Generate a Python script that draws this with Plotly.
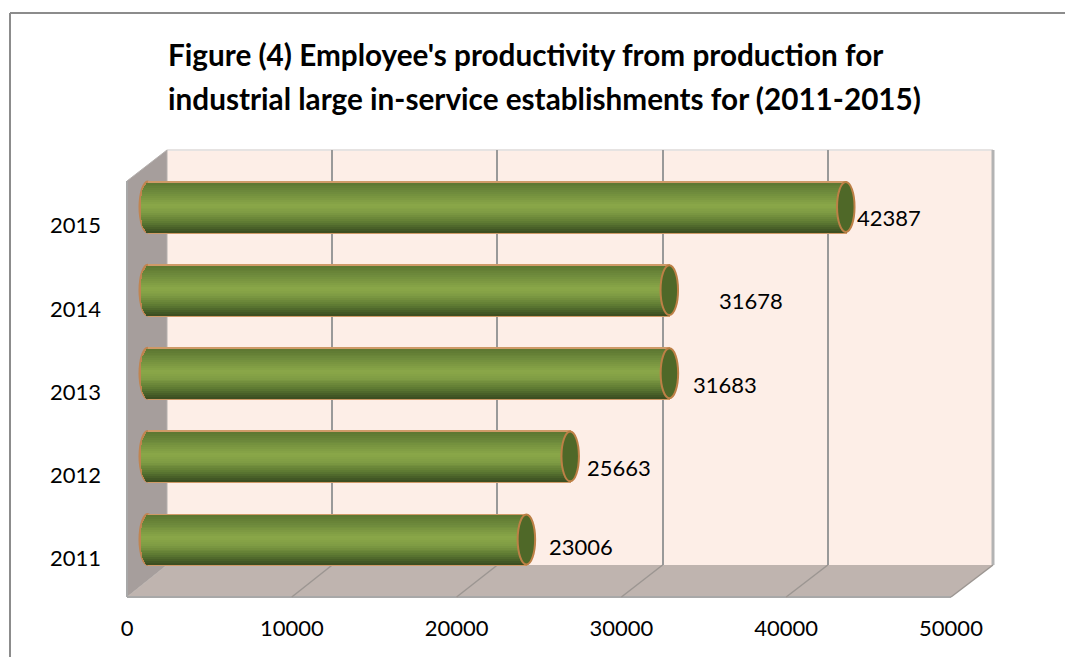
import numpy as np
import plotly.graph_objects as go

# ---- data ----
years = ["2011", "2012", "2013", "2014", "2015"]
productivity = [23006, 25663, 31683, 31678, 42387]
x_ticks = [0, 10000, 20000, 30000, 40000, 50000]
title_line_1 = "Figure (4) Employee's productivity from production for"
title_line_2 = "industrial large in-service establishments for (2011-2015)"
# per-label nudges of the value labels (pixels), as placed in the source chart
label_dx = [20, 15, 21, 47, 9]
label_dy = [-7, -11, -11, -10, -10]

# ---- page / geometry (pixels) ----
W, H = 1065, 657
FONT = "Lato"
BACK = dict(x0=167, x1=993, y0=150, y1=565)
FRONT = dict(x0=127, x1=951, y0=181, y1=597)
MID = dict(x0=147.5, x1=971.5, y0=165.5, y1=581)
BAR_FRAC = 0.6          # bar thickness as a share of the category band
CAP_RX_PX = 7.5
TITLE_PX = 29.7


def xdom(p):
    return [p["x0"] / W, p["x1"] / W]


def ydom(p):
    return [1 - p["y1"] / H, 1 - p["y0"] / H]


def px(x):
    return x / W


def py(y):
    return 1 - y / H


def poly(points):
    return "M " + " L ".join(f"{px(a):.5f},{py(b):.5f}" for a, b in points) + " Z"


units_per_px = 50000 / (MID["x1"] - MID["x0"])
rx = CAP_RX_PX * units_per_px
band_px = (MID["y1"] - MID["y0"]) / len(years)
MID_PAD = 20  # room left of zero on the bar plane for the rounded near end

fig = go.Figure()

# invisible traces so that the back plane and the front plane exist as subplots
fig.add_trace(go.Scatter(x=productivity, y=years, xaxis="x", yaxis="y", mode="markers",
                         marker=dict(opacity=0), hoverinfo="skip", showlegend=False))

# cylinder body: thin stacked slices give the vertical shading
stops_t = [0.0, 0.2, 0.45, 0.6, 0.8, 0.93, 1.0]
stops_rgb = np.array([[0x5c, 0x76, 0x31], [0x6f, 0x8b, 0x3c], [0x8a, 0xa7, 0x48],
                      [0x7f, 0x9c, 0x44], [0x5d, 0x79, 0x32], [0x44, 0x5a, 0x26],
                      [0x3a, 0x4b, 0x1f]])
N = 26
edges = np.linspace(0, 1, N + 1)
vals = np.array(productivity, dtype=float)

# orange rim behind the body
rim_h = BAR_FRAC + 3 / band_px
fig.add_trace(go.Bar(y=years, x=vals, orientation="h", xaxis="x2", yaxis="y2",
                     width=rim_h, marker=dict(color="#cf9a68", line=dict(width=0)),
                     hoverinfo="skip", showlegend=False))
for i in range(N):
    t0, t1 = edges[i], edges[i + 1]
    tm = (t0 + t1) / 2
    rgb = [np.interp(tm, stops_t, stops_rgb[:, c]) for c in range(3)]
    colour = "rgb({:.0f},{:.0f},{:.0f})".format(*rgb)
    base = -rx * np.sqrt(max(0.0, 1 - (2 * tm - 1) ** 2))
    top = (0.5 - t0) * BAR_FRAC
    h = (t1 - t0) * BAR_FRAC + (0.8 / band_px if i < N - 1 else 0)
    fig.add_trace(go.Bar(y=years, x=vals - base, base=base, orientation="h",
                         xaxis="x2", yaxis="y2", width=h, offset=top - h,
                         marker=dict(color=colour, line=dict(width=0)),
                         hoverinfo="skip", showlegend=False))

fig.add_trace(go.Scatter(x=x_ticks, y=[years[0]] * len(x_ticks), xaxis="x3", yaxis="y3",
                         mode="markers", marker=dict(opacity=0), hoverinfo="skip",
                         showlegend=False))
fig.add_trace(go.Scatter(x=[0] * len(years), y=years, xaxis="x3", yaxis="y3",
                         mode="markers", marker=dict(opacity=0), hoverinfo="skip",
                         showlegend=False))

# ---- static 3-D box and frame ----
WALL = "#fdeee7"
SIDE = "#a69e9c"
FLOOR = "#bfb4af"
EDGE = "#a8a8a8"
shapes = [
    dict(type="rect", xref="paper", yref="paper", x0=px(BACK["x0"]), x1=px(BACK["x1"]),
         y0=py(BACK["y1"]), y1=py(BACK["y0"]), fillcolor=WALL, line=dict(width=0), layer="below"),
    dict(type="line", xref="paper", yref="paper", x0=px(BACK["x0"]), x1=px(BACK["x1"]),
         y0=py(BACK["y0"]), y1=py(BACK["y0"]), line=dict(color="#e6e3e2", width=2), layer="below"),
    dict(type="line", xref="paper", yref="paper", x0=px(BACK["x1"]), x1=px(BACK["x1"]),
         y0=py(BACK["y0"]), y1=py(BACK["y1"]), line=dict(color="#b3b3b3", width=3), layer="below"),
    dict(type="path", xref="paper", yref="paper", layer="below", fillcolor=SIDE,
         line=dict(color="#b5b0ae", width=1),
         path=poly([(FRONT["x0"], FRONT["y0"]), (BACK["x0"], BACK["y0"]),
                    (BACK["x0"], BACK["y1"]), (FRONT["x0"], FRONT["y1"])])),
    dict(type="path", xref="paper", yref="paper", layer="below", fillcolor=FLOOR,
         line=dict(width=0),
         path=poly([(FRONT["x0"], FRONT["y1"]), (BACK["x0"], BACK["y1"]),
                    (BACK["x1"], BACK["y1"]), (FRONT["x1"], FRONT["y1"])])),
    dict(type="line", xref="paper", yref="paper", layer="below",
         x0=px(FRONT["x0"]), x1=px(FRONT["x1"]), y0=py(FRONT["y1"]), y1=py(FRONT["y1"]),
         line=dict(color=EDGE, width=2)),
    dict(type="line", xref="paper", yref="paper", layer="below",
         x0=px(FRONT["x0"]), x1=px(FRONT["x0"]), y0=py(FRONT["y0"]), y1=py(FRONT["y1"]),
         line=dict(color=EDGE, width=2)),
    # chart frame
    dict(type="line", xref="paper", yref="paper", layer="below",
         x0=px(10), x1=1, y0=py(13), y1=py(13), line=dict(color="#8c8c8c", width=2)),
    dict(type="line", xref="paper", yref="paper", layer="below",
         x0=px(10), x1=px(10), y0=py(13), y1=0, line=dict(color="#8c8c8c", width=2)),
]
# floor grid lines follow the axis ticks from the front plane to the back plane
for tv in x_ticks[1:]:
    f = tv / 50000
    shapes.append(dict(type="line", xref="paper", yref="paper", layer="below",
                       x0=px(FRONT["x0"] + f * (FRONT["x1"] - FRONT["x0"])), y0=py(FRONT["y1"]),
                       x1=px(BACK["x0"] + f * (BACK["x1"] - BACK["x0"])), y1=py(BACK["y1"]),
                       line=dict(color="#9c9692", width=1.5)))
# rim behind the rounded near end of each bar
for i in range(len(years)):
    shapes.append(dict(type="circle", xref="x2", yref="y2", layer="below",
                       x0=-rx - 1.5 * units_per_px, x1=rx + 1.5 * units_per_px,
                       y0=i - rim_h / 2, y1=i + rim_h / 2,
                       fillcolor="#c08450", line=dict(width=0)))
# end caps of the cylinders
for i, v in enumerate(productivity):
    shapes.append(dict(type="circle", xref="x2", yref="y2", layer="above",
                       x0=v - rx - 1.5 * units_per_px, x1=v + rx + 1 * units_per_px,
                       y0=i - BAR_FRAC / 2, y1=i + BAR_FRAC / 2,
                       fillcolor="#4f6828", line=dict(color="#bd8046", width=2)))

annotations = [
    dict(x=v, y=i, xref="x2", yref="y2", text=str(v), showarrow=False, xanchor="left",
         yanchor="middle", xshift=dx, yshift=dy, font=dict(family=FONT, size=22, color="#000000"))
    for i, (v, dx, dy) in enumerate(zip(productivity, label_dx, label_dy))
]

hidden = dict(showticklabels=False, ticks="", showline=False, zeroline=False, showgrid=False,
              automargin=False)
tick_font = dict(family=FONT, size=22, color="#000000")

fig.update_layout(
    width=W, height=H, autosize=False,
    margin=dict(l=0, r=0, t=0, b=0, pad=0),
    paper_bgcolor="#ffffff", plot_bgcolor="rgba(0,0,0,0)",
    barmode="overlay", bargap=0, showlegend=False,
    shapes=shapes, annotations=annotations,
    title=dict(
        text=(f'<b><span style="font-size:{TITLE_PX}px">{title_line_1}</span></b><br>'
              f'<b><span style="font-size:{TITLE_PX}px">{title_line_2}</span></b>'),
        x=168 / W, xanchor="left", xref="paper", y=py(66), yanchor="top", yref="paper",
        automargin=False, font=dict(family=FONT, size=34, color="#000000")),
    # back wall: its own plane, carrying the vertical grid lines
    xaxis=dict(domain=xdom(BACK), range=[0, 50000], anchor="y", tickvals=x_ticks,
               showticklabels=False, ticks="", showline=False, zeroline=False,
               showgrid=True, gridcolor="#999999", gridwidth=2, automargin=False),
    yaxis=dict(domain=ydom(BACK), anchor="x", type="category", categoryorder="array",
               categoryarray=years, **hidden),
    # bars: middle of the box's depth
    xaxis2=dict(domain=[(MID["x0"] - MID_PAD) / W, MID["x1"] / W],
                range=[-MID_PAD * units_per_px, 50000], anchor="y2", **hidden),
    yaxis2=dict(domain=ydom(MID), anchor="x2", type="category", categoryorder="array",
                categoryarray=years, range=[-0.5, 4.5], **hidden),
    # front plane: the labelled axes
    xaxis3=dict(domain=xdom(FRONT), range=[0, 50000], anchor="y3", tickvals=x_ticks,
                tickformat="d", tickfont=tick_font, ticks="", showline=False, zeroline=False,
                showgrid=False, ticklabelstandoff=13, side="bottom", automargin=False),
    yaxis3=dict(domain=[1 - (FRONT["y1"] + 3) / H, 1 - (FRONT["y0"] + 3) / H], anchor="x3",
                type="category", categoryorder="array", categoryarray=years,
                range=[-0.5, 4.5], tickfont=tick_font, ticks="", showline=False,
                zeroline=False, showgrid=False, ticklabelstandoff=25, automargin=False),
)

fig.write_html("out.html", config=dict(displayModeBar=False),
               post_script="document.body.style.margin='0';document.body.style.overflow='hidden';")
